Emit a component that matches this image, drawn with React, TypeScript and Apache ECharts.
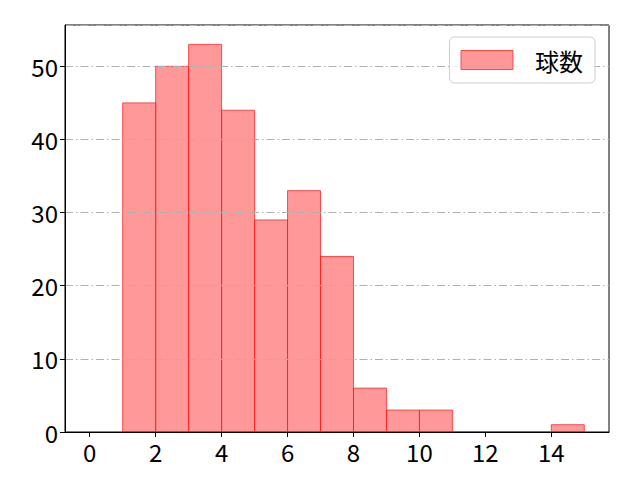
import { useEffect, useRef } from 'react';
import * as echarts from 'echarts';

// histogram bins: [start, end] and counts
const binStarts = [1, 2, 3, 4, 5, 6, 7, 8, 9, 10, 11, 12, 13, 14];
const binEnds = [2, 3, 4, 5, 6, 7, 8, 9, 10, 11, 12, 13, 14, 15];
const counts = [45, 50, 53, 44, 29, 33, 24, 6, 3, 3, 0, 0, 0, 1];
const xTicks = [0, 2, 4, 6, 8, 10, 12, 14];
const seriesName = '球数';

const FILL = 'rgba(255, 0, 0, 0.4)';
const EDGE = 'rgba(255, 30, 30, 0.75)';
const FONT = "'Noto Sans CJK JP', 'DejaVu Sans', sans-serif";

export default function App() {
  const chartRef = useRef<HTMLDivElement>(null);

  useEffect(() => {
    if (!chartRef.current) return;
    document.body.style.margin = '0';
    const chart = echarts.init(chartRef.current, null, { renderer: 'svg' });

    const data = binStarts.map((s, i) => [s, binEnds[i], counts[i]]);

    const option: echarts.EChartsOption = {
      animation: false,
      backgroundColor: '#fff',
      grid: {
        left: 65,
        right: 31,
        top: 25,
        bottom: 48,
        show: true,
        borderColor: '#000',
        borderWidth: 1,
        backgroundColor: 'transparent',
      },
      legend: {
        right: 45,
        top: 37,
        z: 10,
        orient: 'vertical',
        itemWidth: 52,
        itemHeight: 19,
        padding: [11, 12, 11, 11],
        borderColor: '#cccccc',
        borderWidth: 1,
        borderRadius: 5,
        backgroundColor: 'rgba(255,255,255,0.85)',
        textStyle: {
          fontFamily: FONT,
          fontSize: 24,
          color: '#000',
          padding: [0, 0, 0, 17],
        },
        data: [
          {
            name: seriesName,
            icon: 'rect',
            itemStyle: { color: FILL, borderColor: EDGE, borderWidth: 1 },
          },
        ],
      },
      xAxis: {
        type: 'value',
        min: -0.75,
        max: 15.75,
        z: 5,
        axisLine: { show: true, onZero: false, lineStyle: { color: '#000', width: 1 } },
        axisTick: {
          show: true,
          length: 5,
          customValues: xTicks,
          lineStyle: { color: '#000' },
        },
        axisLabel: {
          customValues: xTicks,
          fontFamily: FONT,
          fontSize: 24,
          color: '#000',
          margin: 7,
        },
        splitLine: { show: false },
      },
      yAxis: {
        type: 'value',
        min: 0,
        max: 55.65,
        interval: 10,
        z: 5,
        axisLine: { show: true, onZero: false, lineStyle: { color: '#000', width: 1 } },
        axisTick: { show: true, length: 5, lineStyle: { color: '#000' } },
        axisLabel: {
          fontFamily: FONT,
          fontSize: 24,
          color: '#000',
          margin: 7,
          showMaxLabel: false,
        },
        splitLine: {
          show: true,
          lineStyle: { color: '#b0b0b0', width: 1, type: [8, 3, 1.5, 3] },
        },
      },
      series: [
        {
          name: seriesName,
          type: 'custom',
          z: 2,
          data,
          encode: { x: [0, 1], y: 2 },
          renderItem: (params: any, api: any) => {
            const p0 = api.coord([api.value(0), 0]);
            const p1 = api.coord([api.value(1), api.value(2)]);
            return {
              type: 'rect',
              shape: {
                x: p0[0],
                y: p1[1],
                width: p1[0] - p0[0],
                height: p0[1] - p1[1],
              },
              style: { fill: FILL, stroke: EDGE, lineWidth: 1 },
            };
          },
        },
      ],
    };

    chart.setOption(option);
    return () => {
      chart.dispose();
    };
  }, []);

  return <div ref={chartRef} style={{ width: 640, height: 480 }} />;
}
